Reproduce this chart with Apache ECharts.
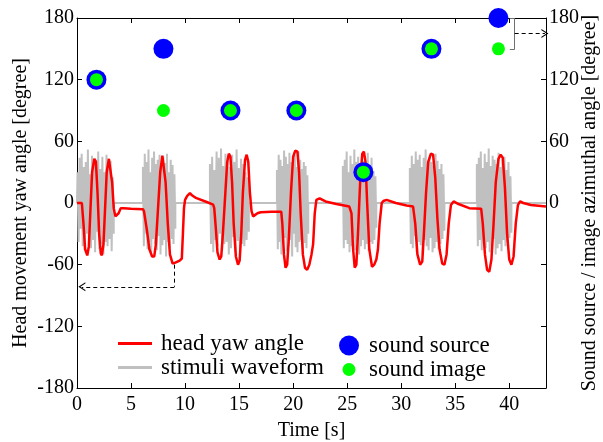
<!DOCTYPE html>
<html><head><meta charset="utf-8">
<script src="https://cdn.jsdelivr.net/npm/echarts@6/dist/echarts.min.js"></script>
<style>html,body{margin:0;padding:0;background:#fff}#c{width:603px;height:442px}</style>
</head><body><div id="c"></div>
<script>
// ---- data ----
const xMin = 0, xMax = 43.4, xStep = 5;
const yMin = -180, yMax = 180, yStep = 60;
const rightLabelMin = 0; // right axis labels shown only from 0 up

const headYaw = [
 [0,0],[0.45,0],[0.6,-20],[0.75,-45],[0.95,-51],[1.1,-42],[1.25,-5],[1.4,30],[1.6,43],[1.75,40],[1.9,10],[2.05,-30],[2.2,-49],[2.3,-51],[2.45,-40],[2.6,-5],[2.75,30],[2.95,43],[3.1,42],[3.25,20],[3.4,-5],[3.55,-13],[3.7,-14],[3.85,-10],[4.05,-5],[4.3,-5],[5.0,-5.5],[6.1,-6],
 [6.2,-8],[6.45,-25],[6.7,-45],[6.95,-52],[7.15,-52],[7.3,-40],[7.5,-5],[7.7,30],[7.9,46],[8.05,45],[8.2,20],[8.4,-20],[8.6,-50],[8.85,-59],[9.1,-58],[9.5,-56],[9.7,-54],[9.8,-30],[9.9,-5],[10.0,3],[10.2,7],[10.45,9.5],[10.7,7],[11.0,5],[12.0,1],[12.6,-1.5],
 [12.7,-5],[12.85,-25],[13.0,-48],[13.2,-55],[13.35,-52],[13.5,-30],[13.7,5],[13.9,40],[14.05,48],[14.2,45],[14.35,20],[14.5,-20],[14.7,-52],[14.9,-60],[15.05,-56],[15.2,-30],[15.35,10],[15.55,42],[15.7,47],[15.85,40],[16.0,10],[16.15,-8],[16.3,-13],[16.45,-12],[16.7,-10],[17.0,-9],[18.0,-8.5],[18.9,-8.5],
 [19.0,-20],[19.15,-50],[19.3,-63],[19.45,-60],[19.6,-35],[19.8,10],[20.0,45],[20.2,51],[20.4,50],[20.55,30],[20.7,-10],[20.9,-50],[21.1,-63],[21.3,-65],[21.5,-60],[21.7,-50],[21.85,-40],[22.0,-10],[22.15,3],[22.45,4.5],[23.0,1.5],[24.0,-1],[25.2,-3.5],
 [25.4,-10],[25.55,-45],[25.7,-63],[25.85,-60],[26.0,-30],[26.2,20],[26.4,48],[26.55,50],[26.7,40],[26.85,0],[27.05,-45],[27.3,-62],[27.5,-60],[27.7,-55],[27.85,-45],[28.0,-20],[28.2,0],[28.35,2],[28.65,3],[29.5,0],[30.5,-2.5],[31.1,-3.5],
 [31.3,-20],[31.5,-50],[31.75,-60],[31.95,-57],[32.1,-30],[32.3,10],[32.5,40],[32.75,48],[32.95,47],[33.15,25],[33.35,-15],[33.55,-45],[33.8,-59],[34.0,-60],[34.2,-50],[34.4,-20],[34.6,-2],[34.85,1.5],[35.3,-1],[36.3,-5],[37.4,-5.5],
 [37.55,-20],[37.75,-50],[37.95,-65],[38.15,-67],[38.35,-55],[38.55,-20],[38.75,20],[39.0,43],[39.2,47],[39.4,44],[39.6,15],[39.8,-30],[40.0,-55],[40.2,-60],[40.4,-52],[40.6,-20],[40.8,-2],[41.0,1.5],[41.3,0],[42.0,-2],[43.4,-3.5]
];

const burstStart = [0.05, 6.1, 12.3, 18.5, 24.6, 30.8, 37.0];
const burstEnd   = [3.4, 9.1, 15.9, 21.4, 27.7, 34.0, 40.2];
const burstSamples = [
 [30,-38,44,-25,48,-42,35,-46,40,-30,52,-40,28,-44,46,-36,38,-48,42,-28,50,-45,33,-40,45,-50,30,-38,47,-42,36,-35,41,-47,25,-30],
 [35,-42,48,-30,40,-45,52,-38,30,-48,44,-35,50,-40,38,-46,42,-32,47,-50,34,-41,45,-36,39,-52,48,-38,30,-44,42,-35,37,-40,28,-25],
 [38,-40,45,-48,32,-36,50,-42,44,-30,53,-46,36,-40,48,-38,41,-50,35,-44,47,-33,40,-48,52,-37,34,-45,43,-40,38,-42,30,-36,25,-28],
 [32,-45,47,-38,42,-50,36,-40,51,-34,45,-47,38,-42,49,-36,40,-52,44,-30,47,-43,35,-48,50,-38,42,-36,33,-46,40,-39,36,-44,27,-30],
 [36,-44,42,-36,50,-40,30,-48,46,-42,38,-34,52,-46,40,-38,45,-50,33,-42,48,-36,41,-45,37,-40,49,-47,34,-38,44,-40,31,-36,26,-24],
 [34,-40,46,-44,38,-32,50,-48,42,-38,47,-41,35,-50,44,-36,52,-42,39,-46,45,-34,40,-48,36,-44,48,-38,41,-45,33,-40,38,-35,28,-27],
 [38,-42,44,-36,50,-46,34,-40,48,-44,40,-38,53,-48,36,-42,46,-35,42,-50,38,-44,49,-40,35,-47,43,-36,45,-42,32,-38,40,-34,26,-29]
];

const sourceX = [1.8, 8, 14.2, 20.3, 26.5, 32.8, 39];
const sourceY = [120, 150, 90, 90, 30, 150, 180];
const imageX  = [1.8, 8, 14.2, 20.3, 26.5, 32.8, 39];
const imageY  = [120, 90, 90, 90, 30, 150, 150];

// ---- build ----
const wave = [[0,0]];
burstStart.forEach((s, k) => {
  const vals = burstSamples[k];
  const e = burstEnd[k];
  const dt = (e - s) / (vals.length - 1);
  wave.push([s, 0]);
  vals.forEach((v, i) => wave.push([s + i * dt, v]));
  wave.push([e, 0]);
});
wave.push([xMax, 0]);

const font = "'Liberation Serif','Times New Roman',serif";
const chev = 'path://M0,10L5,0L10,10L8.6,10L5,2.8L1.4,10Z';
const dash = {type: [4, 3], color: '#000', width: 1};
const gray = {type: 'solid', color: '#707070', width: 1};

const chart = echarts.init(document.getElementById('c'), null, {renderer: 'canvas'});
chart.setOption({
  animation: false,
  backgroundColor: '#fff',
  grid: {left: 77, right: 57, top: 18, bottom: 54, containLabel: false, outerBoundsMode: 'none'},
  xAxis: [{
    type: 'value', min: xMin, max: xMax, interval: xStep, position: 'bottom',
    name: 'Time [s]', nameLocation: 'middle', nameGap: 33, nameMoveOverlap: false,
    nameTextStyle: {fontFamily: font, fontSize: 20, color: '#000'},
    axisLine: {show: true, onZero: false, lineStyle: {color: '#000', width: 1}},
    axisTick: {show: true, inside: true, length: 5, lineStyle: {color: '#000'}},
    axisLabel: {fontFamily: font, fontSize: 20, color: '#000', margin: 7, showMaxLabel: false},
    splitLine: {show: false}
  }, {
    type: 'value', min: xMin, max: xMax, interval: xStep, position: 'top',
    axisLine: {show: true, onZero: false, lineStyle: {color: '#000', width: 1}},
    axisTick: {show: true, inside: true, length: 5, lineStyle: {color: '#000'}},
    axisLabel: {show: false}, splitLine: {show: false}
  }],
  yAxis: [{
    type: 'value', min: yMin, max: yMax, interval: yStep, position: 'left',
    name: 'Head movement yaw angle [degree]', nameLocation: 'middle', nameRotate: 90, nameGap: 46, nameMoveOverlap: false,
    nameTextStyle: {fontFamily: font, fontSize: 20, color: '#000'},
    axisLine: {show: true, onZero: false, lineStyle: {color: '#000', width: 1}},
    axisTick: {show: true, inside: true, length: 5, lineStyle: {color: '#000'}},
    axisLabel: {fontFamily: font, fontSize: 20, color: '#000', margin: 3},
    splitLine: {show: false}
  }, {
    type: 'value', min: yMin, max: yMax, interval: yStep, position: 'right',
    name: 'Sound source / image azimuthal angle [degree]', nameLocation: 'middle', nameRotate: 90, nameGap: 34, nameMoveOverlap: false,
    nameTextStyle: {fontFamily: font, fontSize: 20, color: '#000'},
    axisLine: {show: true, onZero: false, lineStyle: {color: '#000', width: 1}},
    axisTick: {show: true, inside: true, length: 5, lineStyle: {color: '#000'}},
    axisLabel: {fontFamily: font, fontSize: 20, color: '#000', margin: 3,
      formatter: v => (v >= rightLabelMin ? String(v) : '')},
    splitLine: {show: false}
  }],
  legend: [{
    orient: 'vertical', left: 113, top: 327, itemWidth: 34, itemHeight: 3, itemGap: 1,
    textStyle: {fontFamily: font, fontSize: 23, color: '#000', padding: [0,0,0,4]},
    data: [{name: 'head yaw angle', icon: 'rect'}, {name: 'stimuli waveform', icon: 'rect'}],
    selectedMode: false
  }, {
    orient: 'vertical', left: 334, top: 329, itemWidth: 20, itemHeight: 20, itemGap: 1,
    textStyle: {fontFamily: font, fontSize: 23, color: '#000', padding: [0,0,0,5]},
    itemStyle: {opacity: 1},
    data: [
      {name: 'sound source', icon: 'path://M0,10a10,10 0 1,0 20,0a10,10 0 1,0 -20,0Z'},
      {name: 'sound image', icon: 'path://M0,0M20,20M3.5,10a6.5,6.5 0 1,0 13,0a6.5,6.5 0 1,0 -13,0Z'}
    ],
    selectedMode: false
  }],
  series: [{
    name: 'stimuli waveform', type: 'line', data: wave, symbol: 'none', color: '#c0c0c0',
    lineStyle: {color: '#c0c0c0', width: 2}, itemStyle: {color: '#c0c0c0'}, z: 1, silent: true
  }, {
    name: 'head yaw angle', type: 'line', data: headYaw, symbol: 'none', color: '#ff0000',
    lineStyle: {color: '#ff0000', width: 2.5}, itemStyle: {color: '#ff0000'}, z: 2, silent: true
  }, {
    name: 'annot', type: 'line', data: [], symbol: 'none', silent: true, z: 3,
    markLine: {
      silent: true, animation: false, label: {show: false}, symbolSize: [9, 7],
      data: [
        [{coord: [9.0, -60], symbol: 'none', lineStyle: dash}, {coord: [9.0, -81.5], symbol: 'none'}],
        [{coord: [9.0, -81.5], symbol: 'none', lineStyle: dash}, {coord: [0.45, -81.5], symbol: chev}],
        [{coord: [40.5, 180], symbol: 'none', lineStyle: gray}, {coord: [40.5, 149.5], symbol: 'none'}],
        [{coord: [40.05, 180], symbol: 'none', lineStyle: gray}, {coord: [40.5, 180], symbol: 'none'}],
        [{coord: [40.05, 149.5], symbol: 'none', lineStyle: gray}, {coord: [40.5, 149.5], symbol: 'none'}],
        [{coord: [40.5, 165], symbol: 'none', lineStyle: dash}, {coord: [43.3, 165], symbol: chev}]
      ]
    }
  }, {
    name: 'sound source', type: 'scatter', data: sourceX.map((x, i) => [x, sourceY[i]]),
    symbol: 'circle', symbolSize: 20, color: '#0000ff', itemStyle: {color: '#0000ff', opacity: 1}, z: 4, clip: false, silent: true
  }, {
    name: 'sound image', type: 'scatter', data: imageX.map((x, i) => [x, imageY[i]]),
    symbol: 'circle', symbolSize: 13, color: '#00ff00', itemStyle: {color: '#00ff00', opacity: 1}, z: 5, clip: false, silent: true
  }]
});
</script></body></html>
